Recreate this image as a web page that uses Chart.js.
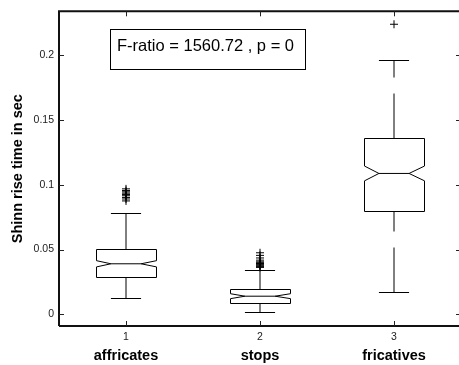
<!DOCTYPE html>
<html>
<head>
<meta charset="utf-8">
<script src="https://cdn.jsdelivr.net/npm/chart.js@4/dist/chart.umd.min.js"></script>
<style>
  html, body { margin: 0; padding: 0; background: #fff; overflow: hidden; width: 459px; height: 365px; }
  canvas { display: block; }
</style>
</head>
<body>
<canvas id="c" width="470" height="365"></canvas>
<script>
// Groups and their box-plot summaries (seconds)
const categories = ['affricates', 'stops', 'fricatives'];
const tickNumbers = ['1', '2', '3'];
const lowerWhisker = [0.0127, 0.0020, 0.0174];
const lowerQuartile = [0.0289, 0.0087, 0.0795];
const medians = [0.0390, 0.0140, 0.1087];
const upperQuartile = [0.0502, 0.0192, 0.1357];
const upperWhisker = [0.0783, 0.0341, 0.1960];
const notchHalf = [0.0024, 0.0019, 0.0057];
const affricateOutliers = [0.0968, 0.0955, 0.0945, 0.0935, 0.0925, 0.0915, 0.0902, 0.0890, 0.0875];
const stopOutliers = [0.0475, 0.0455, 0.0435, 0.0418, 0.0405, 0.0398, 0.0392, 0.0386, 0.0380, 0.0374, 0.0368, 0.0362];
const fricativeOutliers = [0.2238];
const yTicks = [0, 0.05, 0.1, 0.15, 0.2];
const fRatio = '1560.72';
const pValue = '0';

const outlierPoints = [];
[affricateOutliers, stopOutliers, fricativeOutliers].forEach((arr, i) => {
  arr.forEach(v => outlierPoints.push({ x: i + 1, y: v }));
});

const BOX_HALF = 0.225;   // half box width in x units

const boxPlotPlugin = {
  id: 'boxPlot',
  afterDatasetsDraw(chart) {
    const { ctx, scales: { x, y } } = chart;
    ctx.save();
    ctx.strokeStyle = '#000';
    ctx.lineWidth = 1;
    categories.forEach((_, i) => {
      const cx = x.getPixelForValue(i + 1);
      const hw = x.getPixelForValue(i + 1 + BOX_HALF) - cx;
      const L = Math.round(cx - hw) + 0.5, R = Math.round(cx + hw) + 0.5;
      const nL = cx - hw * 0.5, nR = cx + hw * 0.5;
      const yQ1 = Math.round(y.getPixelForValue(lowerQuartile[i])) + 0.5;
      const yQ3 = Math.round(y.getPixelForValue(upperQuartile[i])) + 0.5;
      const yMed = y.getPixelForValue(medians[i]);
      const yNT = y.getPixelForValue(medians[i] + notchHalf[i]);
      const yNB = y.getPixelForValue(medians[i] - notchHalf[i]);
      const yLo = Math.round(y.getPixelForValue(lowerWhisker[i])) + 0.5;
      const yHi = Math.round(y.getPixelForValue(upperWhisker[i])) + 0.5;

      // notched box
      ctx.setLineDash([]);
      ctx.beginPath();
      ctx.moveTo(L, yQ3);
      ctx.lineTo(L, yNT);
      ctx.lineTo(nL, yMed);
      ctx.lineTo(L, yNB);
      ctx.lineTo(L, yQ1);
      ctx.lineTo(R, yQ1);
      ctx.lineTo(R, yNB);
      ctx.lineTo(nR, yMed);
      ctx.lineTo(R, yNT);
      ctx.lineTo(R, yQ3);
      ctx.closePath();
      ctx.stroke();
      // median
      ctx.beginPath();
      ctx.moveTo(nL, yMed);
      ctx.lineTo(nR, yMed);
      ctx.stroke();

      // whiskers (dashed, drawn upward)
      ctx.setLineDash([45, 16]);
      ctx.beginPath();
      ctx.moveTo(cx, yLo);
      ctx.lineTo(cx, yQ1);
      ctx.stroke();
      ctx.beginPath();
      ctx.moveTo(cx, yQ3);
      ctx.lineTo(cx, yHi);
      ctx.stroke();

      // caps
      ctx.setLineDash([]);
      ctx.beginPath();
      ctx.moveTo(cx - hw * 0.5, yLo);
      ctx.lineTo(cx + hw * 0.5, yLo);
      ctx.moveTo(cx - hw * 0.5, yHi);
      ctx.lineTo(cx + hw * 0.5, yHi);
      ctx.stroke();
    });
    ctx.restore();
  },
  afterDraw(chart) {
    const { ctx, chartArea: a, scales: { x, y } } = chart;
    ctx.save();
    // frame: left, top, bottom
    ctx.strokeStyle = '#111';
    ctx.lineWidth = 2;
    ctx.beginPath();
    ctx.moveTo(a.left, a.bottom);
    ctx.lineTo(a.left, a.top);
    ctx.lineTo(a.right, a.top);
    ctx.moveTo(a.left, a.bottom);
    ctx.lineTo(a.right, a.bottom);
    ctx.stroke();

    // inward tick marks
    ctx.lineWidth = 1;
    ctx.strokeStyle = '#222';
    ctx.beginPath();
    yTicks.forEach(v => {
      const py = Math.round(y.getPixelForValue(v)) + 0.5;
      ctx.moveTo(a.left, py); ctx.lineTo(a.left + 5, py);
      ctx.moveTo(a.right, py); ctx.lineTo(a.right - 5, py);
    });
    tickNumbers.forEach((_, i) => {
      const px = Math.round(x.getPixelForValue(i + 1)) + 0.5;
      ctx.moveTo(px, a.bottom); ctx.lineTo(px, a.bottom - 5);
      ctx.moveTo(px, a.top); ctx.lineTo(px, a.top + 5);
    });
    ctx.stroke();

    // group names under the axis
    ctx.fillStyle = '#000';
    ctx.font = 'bold 14.5px "Liberation Sans", Arial, sans-serif';
    ctx.textAlign = 'center';
    ctx.textBaseline = 'alphabetic';
    categories.forEach((name, i) => {
      ctx.fillText(name, x.getPixelForValue(i + 1), 360);
    });

    // statistics box
    const bx = a.left + 51, by = a.top + 18;
    ctx.strokeStyle = '#000';
    ctx.lineWidth = 1;
    ctx.strokeRect(Math.round(bx) + 0.5, Math.round(by) + 0.5, 195, 40);
    ctx.font = '16.5px "Liberation Sans", Arial, sans-serif';
    ctx.textAlign = 'left';
    ctx.fillText('F-ratio = ' + fRatio + ' , p = ' + pValue, bx + 7, by + 22);
    ctx.restore();
  }
};

new Chart(document.getElementById('c'), {
  type: 'scatter',
  data: {
    datasets: [{
      data: outlierPoints,
      pointStyle: 'cross',
      radius: 4,
      hoverRadius: 4,
      borderColor: '#000',
      backgroundColor: '#000',
      borderWidth: 1
    }]
  },
  options: {
    responsive: false,
    animation: false,
    devicePixelRatio: 1,
    layout: { padding: { top: 10, right: 9, left: 0, bottom: 0 } },
    plugins: { legend: { display: false }, tooltip: { enabled: false } },
    scales: {
      x: {
        type: 'linear',
        min: 0.5,
        max: 3.5,
        grid: { display: false, drawTicks: false },
        border: { display: false },
        afterBuildTicks: s => { s.ticks = tickNumbers.map((_, i) => ({ value: i + 1 })); },
        afterFit: s => { s.height = 39; },
        ticks: {
          autoSkip: false,
          maxRotation: 0,
          padding: 5,
          color: '#222',
          font: { family: '"Liberation Sans", Arial, sans-serif', size: 10.5 },
          callback: v => tickNumbers[Math.round(v) - 1]
        }
      },
      y: {
        type: 'linear',
        min: -0.009,
        max: 0.2338,
        grid: { display: false, drawTicks: false },
        border: { display: false },
        afterBuildTicks: s => { s.ticks = yTicks.map(v => ({ value: v })); },
        afterFit: s => { s.width = 59; },
        ticks: {
          padding: 5,
          color: '#222',
          font: { family: '"Liberation Sans", Arial, sans-serif', size: 10.5 },
          callback: v => String(v)
        },
        title: {
          display: true,
          text: 'Shinn rise time in sec',
          color: '#000',
          font: { family: '"Liberation Sans", Arial, sans-serif', size: 14.5, weight: 'bold' },
          padding: { top: 9, bottom: 0 }
        }
      }
    }
  },
  plugins: [boxPlotPlugin]
});
</script>
</body>
</html>
